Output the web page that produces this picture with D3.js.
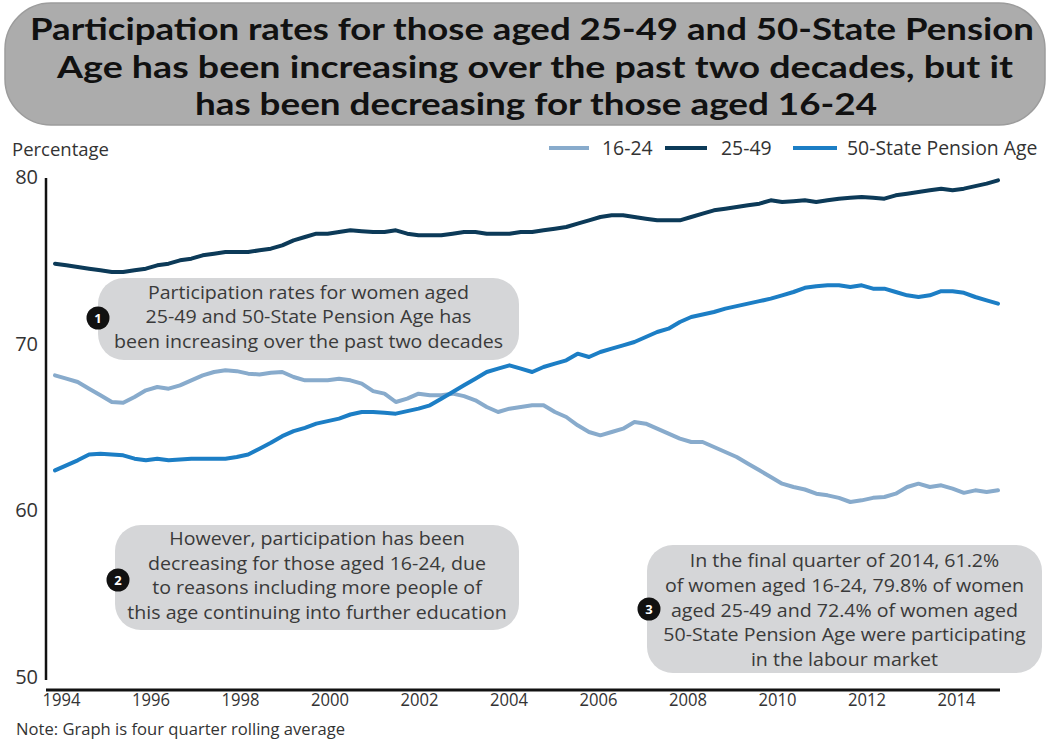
<!DOCTYPE html>
<html>
<head>
<meta charset="utf-8">
<script src="https://cdn.jsdelivr.net/npm/d3@7/dist/d3.min.js"></script>
<style>
  html, body { margin: 0; padding: 0; background: #ffffff; }
  svg { display: block; font-family: "Open Sans", "Noto Sans", sans-serif; }
</style>
</head>
<body>
<svg id="chart" width="1050" height="740"></svg>
<script>
// Women's labour market participation rates (%), four quarter rolling average, 1994 Q1 – 2014 Q4
const startYear = 1994;
const quartersPerYear = 4;

const rate16to24 = [
  68.1, 67.9, 67.7, 67.3, 66.9, 66.5, 66.45, 66.8, 67.2, 67.4, 67.3, 67.5,
  67.8, 68.1, 68.3, 68.4, 68.35, 68.2, 68.15, 68.25, 68.3, 68.0, 67.8, 67.8,
  67.8, 67.9, 67.8, 67.6, 67.15, 67.0, 66.5, 66.7, 67.0, 66.9, 66.9, 67.0,
  66.85, 66.6, 66.2, 65.9, 66.1, 66.2, 66.3, 66.3, 65.9, 65.6, 65.1, 64.7,
  64.5, 64.7, 64.9, 65.3, 65.2, 64.9, 64.6, 64.3, 64.1, 64.1, 63.8, 63.5,
  63.2, 62.8, 62.4, 62.0, 61.6, 61.4, 61.25, 61.0, 60.9, 60.75, 60.5, 60.6,
  60.75, 60.8, 61.0, 61.4, 61.6, 61.4, 61.5, 61.3, 61.05, 61.2, 61.1, 61.2
];

const rate25to49 = [
  74.8, 74.7, 74.6, 74.5, 74.4, 74.3, 74.3, 74.4, 74.5, 74.7, 74.8, 75.0,
  75.1, 75.3, 75.4, 75.5, 75.5, 75.5, 75.6, 75.7, 75.9, 76.2, 76.4, 76.6,
  76.6, 76.7, 76.8, 76.75, 76.7, 76.7, 76.8, 76.6, 76.5, 76.5, 76.5, 76.6,
  76.7, 76.7, 76.6, 76.6, 76.6, 76.7, 76.7, 76.8, 76.9, 77.0, 77.2, 77.4,
  77.6, 77.7, 77.7, 77.6, 77.5, 77.4, 77.4, 77.4, 77.6, 77.8, 78.0, 78.1,
  78.2, 78.3, 78.4, 78.6, 78.5, 78.55, 78.6, 78.5, 78.6, 78.7, 78.75, 78.8,
  78.75, 78.7, 78.9, 79.0, 79.1, 79.2, 79.3, 79.2, 79.3, 79.45, 79.6, 79.8
];

const rate50toSPA = [
  62.4, 62.7, 63.0, 63.35, 63.4, 63.35, 63.3, 63.1, 63.0, 63.1, 63.0, 63.05,
  63.1, 63.1, 63.1, 63.1, 63.2, 63.35, 63.7, 64.05, 64.45, 64.75, 64.95, 65.2,
  65.35, 65.5, 65.75, 65.9, 65.9, 65.85, 65.8, 65.95, 66.1, 66.3, 66.7, 67.1,
  67.5, 67.9, 68.3, 68.5, 68.7, 68.5, 68.3, 68.6, 68.8, 69.0, 69.4, 69.2,
  69.5, 69.7, 69.9, 70.1, 70.4, 70.7, 70.9, 71.3, 71.6, 71.75, 71.9, 72.1,
  72.25, 72.4, 72.55, 72.7, 72.9, 73.1, 73.35, 73.45, 73.5, 73.5, 73.4, 73.5,
  73.3, 73.3, 73.1, 72.9, 72.8, 72.9, 73.15, 73.15, 73.05, 72.8, 72.6, 72.4
];

const seriesNames = ["16-24", "25-49", "50-State Pension Age"];
const seriesColors = ["#88abcc", "#0c3a58", "#1c7ec5"];
const seriesValues = [rate16to24, rate25to49, rate50toSPA];

const yearTicks = [1994, 1996, 1998, 2000, 2002, 2004, 2006, 2008, 2010, 2012, 2014];
const percentTicks = [50, 60, 70, 80];

const titleLines = [
  "Participation rates for those aged 25-49 and 50-State Pension",
  "Age has been increasing over the past two decades, but it",
  "has been decreasing for those aged 16-24"
];

const notes = [
  { num: "1", lines: ["Participation rates for women aged", "25-49 and 50-State Pension Age has", "been increasing over the past two decades"] },
  { num: "2", lines: ["However, participation has been", "decreasing for those aged 16-24, due", "to reasons including more people of", "this age continuing into further education"] },
  { num: "3", lines: ["In the final quarter of 2014, 61.2%", "of women aged 16-24, 79.8% of women", "aged 25-49 and 72.4% of women aged", "50-State Pension Age were participating", "in the labour market"] }
];

const footnote = "Note: Graph is four quarter rolling average";

// ---------------------------------------------------------------
const svg = d3.select("#chart");

const periods = rate16to24.map((_, i) => startYear + i / quartersPerYear);

// plotted quarters
const x = d3.scaleLinear()
  .domain([startYear, d3.max(periods)])
  .range([55, 998]);

// year labels sit on their own, slightly tighter spacing
const xLabel = d3.scaleLinear()
  .domain([yearTicks[0], yearTicks[yearTicks.length - 1]])
  .range([x(yearTicks[0]) + 6, x(yearTicks[yearTicks.length - 1]) - 8]);

const y = d3.scaleLinear()
  .domain([50, 80])
  .range([677, 177]);

const axisLeftX = 46;
const baselineY = 690;

// Title banner
const titleG = svg.append("g");
titleG.append("rect")
  .attr("x", 5).attr("y", 3).attr("width", 1040).attr("height", 122)
  .attr("rx", 46).attr("ry", 46)
  .attr("fill", "#acacac")
  .attr("stroke", "#9c9c9c").attr("stroke-width", 1.5);

const titleWidths = [1004, 956, 682];
const titleCentres = [532, 535, 536];
titleG.selectAll("text.title")
  .data(titleLines)
  .join("text")
  .attr("class", "title")
  .attr("x", (d, i) => titleCentres[i])
  .attr("y", (d, i) => 40 + i * 37.5)
  .attr("text-anchor", "middle")
  .attr("textLength", (d, i) => titleWidths[i])
  .attr("lengthAdjust", "spacingAndGlyphs")
  .style("font-family", "Lato, 'Open Sans', sans-serif")
  .style("font-size", "31px")
  .style("font-weight", 700)
  .style("fill", "#111")
  .text(d => d);

// Y axis
const yAxis = d3.axisLeft(y).tickValues(percentTicks).tickSize(0).tickPadding(8).tickFormat(d3.format("d"));
const yG = svg.append("g").attr("transform", `translate(${axisLeftX},0)`).call(yAxis);
yG.select(".domain").attr("stroke", "#111").attr("stroke-width", 2.5)
  .attr("d", `M0,${y(80) + 1}V${y(50) + 3}`);
yG.selectAll(".tick text")
  .style("font-size", "20px").style("fill", "#333")
  .style("font-family", "'Open Sans', sans-serif");

svg.append("text")
  .attr("x", 12).attr("y", 156)
  .style("font-size", "18.5px").style("fill", "#333")
  .text("Percentage");

// X axis: baseline spans the plot, labels below it
svg.append("line")
  .attr("x1", axisLeftX).attr("x2", x.range()[1] + 2)
  .attr("y1", baselineY).attr("y2", baselineY)
  .attr("stroke", "#111").attr("stroke-width", 3);

const xAxis = d3.axisBottom(xLabel).tickValues(yearTicks).tickSize(0).tickPadding(3).tickFormat(d3.format("d"));
const xG = svg.append("g").attr("transform", `translate(0,${baselineY})`).call(xAxis);
xG.select(".domain").remove();
xG.selectAll(".tick text")
  .attr("textLength", 38)
  .attr("lengthAdjust", "spacingAndGlyphs")
  .style("font-size", "18px").style("fill", "#333")
  .style("font-family", "'Open Sans', sans-serif");

svg.append("text")
  .attr("x", 16).attr("y", 734.5)
  .attr("textLength", 329)
  .attr("lengthAdjust", "spacingAndGlyphs")
  .style("font-size", "15.5px").style("fill", "#333")
  .text(footnote);

// Series lines
const line = d3.line()
  .x((d, i) => x(periods[i]))
  .y(d => y(d))
  .curve(d3.curveLinear);

svg.append("g").selectAll("path.series")
  .data(seriesValues)
  .join("path")
  .attr("class", "series")
  .attr("fill", "none")
  .attr("stroke", (d, i) => seriesColors[i])
  .attr("stroke-width", 4)
  .attr("stroke-linejoin", "round")
  .attr("stroke-linecap", "round")
  .attr("d", line);

// Legend
const legendItems = [
  { lineX: 549, lineW: 40, textX: 602 },
  { lineX: 665, lineW: 42, textX: 721 },
  { lineX: 793, lineW: 44, textX: 847 }
];
const legendY = 148;
const legend = svg.append("g");
seriesNames.forEach((name, i) => {
  legend.append("line")
    .attr("x1", legendItems[i].lineX).attr("x2", legendItems[i].lineX + legendItems[i].lineW)
    .attr("y1", legendY).attr("y2", legendY)
    .attr("stroke", seriesColors[i]).attr("stroke-width", 4);
  legend.append("text")
    .attr("x", legendItems[i].textX).attr("y", legendY + 7)
    .style("font-size", "19.4px").style("fill", "#333")
    .text(name);
});

// Annotation boxes: tightly leaded notes, glyphs slightly compact, widths kept at full size
const noteWideSize = 19.6;
const noteSize = 18;
const boxes = [
  { x: 98, y: 278, w: 421, h: 82, cx: 98, cy: 318, lineH: 24.5, first: 298.5 },
  { x: 115, y: 525, w: 404, h: 105, cx: 118, cy: 580, lineH: 24.5, first: 545 },
  { x: 647, y: 545, w: 395, h: 128, cx: 649, cy: 609, lineH: 24.8, first: 567 }
];

notes.forEach((n, k) => {
  const b = boxes[k];
  const g = svg.append("g");
  g.append("rect")
    .attr("x", b.x).attr("y", b.y).attr("width", b.w).attr("height", b.h)
    .attr("rx", 26).attr("ry", 26)
    .attr("fill", "#d5d6d8");
  g.selectAll("text.note")
    .data(n.lines)
    .join("text")
    .attr("class", "note")
    .attr("x", b.x + b.w / 2)
    .attr("y", (d, i) => b.first + i * b.lineH)
    .attr("text-anchor", "middle")
    .style("font-size", noteWideSize + "px").style("fill", "#3a3a3a")
    .text(d => d)
    .each(function () {
      const wide = this.getComputedTextLength();
      d3.select(this)
        .style("font-size", noteSize + "px")
        .attr("textLength", wide)
        .attr("lengthAdjust", "spacingAndGlyphs");
    });
  g.append("circle")
    .attr("cx", b.cx).attr("cy", b.cy).attr("r", 11.5)
    .attr("fill", "#111");
  g.append("text")
    .attr("x", b.cx).attr("y", b.cy + 4.5)
    .attr("text-anchor", "middle")
    .style("font-size", "13px").style("font-weight", 700).style("fill", "#fff")
    .text(n.num);
});
</script>
</body>
</html>
